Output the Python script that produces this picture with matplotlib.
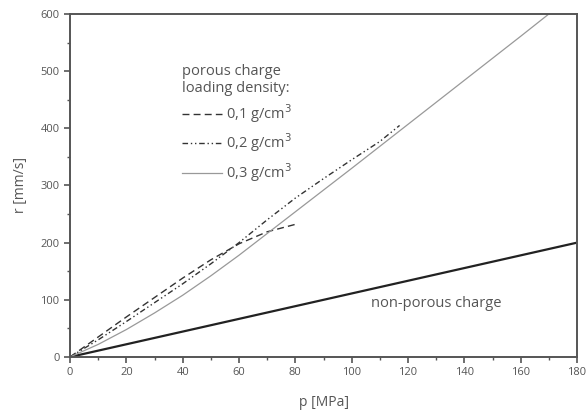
import matplotlib
matplotlib.use("Agg")
import matplotlib.pyplot as plt

# non-porous charge
p_np = [0, 180]
r_np = [0, 200]

# porous charge, loading density 0,1 g/cm3
p_01 = [0, 10, 20, 30, 40, 50, 60, 70, 80]
r_01 = [0, 35, 70, 104, 138, 170, 198, 219, 232]

# 0,2 g/cm3
p_02 = [0, 10, 20, 30, 40, 50, 60, 70, 80, 90, 100, 110, 117]
r_02 = [0, 30, 62, 95, 128, 163, 200, 240, 278, 312, 345, 377, 405]

# 0,3 g/cm3
p_03 = [0, 10, 20, 30, 40, 50, 60, 70, 80, 90, 100, 120, 140, 160, 170]
r_03 = [0, 22, 48, 77, 108, 142, 178, 216, 254, 292, 330, 407, 484, 561, 600]

xticks = [0, 20, 40, 60, 80, 100, 120, 140, 160, 180]
yticks = [0, 100, 200, 300, 400, 500, 600]

plt.rcParams['font.family'] = ['Open Sans', 'DejaVu Sans']
txt = '#555555'

fig = plt.figure(figsize=(5.87, 4.15), dpi=100)
ax = fig.add_axes([0.1193, 0.1398, 0.8637, 0.8265])

ax.plot(p_np, r_np, color='#222222', lw=1.6)
ax.plot(p_01, r_01, color='#333333', lw=1.0, ls=(0, (5, 3)), label='0,1 g/cm$^3$')
ax.plot(p_02, r_02, color='#333333', lw=1.0, ls=(0, (4, 2, 1, 2, 1, 2)), label='0,2 g/cm$^3$')
ax.plot(p_03, r_03, color='#999999', lw=0.9, label='0,3 g/cm$^3$')

ax.set_xlim(0, 180)
ax.set_ylim(0, 600)
ax.set_xticks(xticks)
ax.set_yticks(yticks)
ax.set_xticks(range(10, 180, 20), minor=True)
ax.set_yticks(range(50, 600, 100), minor=True)
ax.tick_params(direction='out', length=4, width=1.2, colors='#555555', labelcolor=txt, labelsize=8)
ax.tick_params(which='minor', direction='out', length=2.5, width=1.0, colors='#555555')
for s in ax.spines.values():
    s.set_color('#555555')
    s.set_linewidth(1.4)

ax.set_xlabel('p [MPa]', color=txt, fontsize=10, labelpad=12)
ax.set_ylabel('r [mm/s]', color=txt, fontsize=10, labelpad=9)

ax.text(0.722, 0.157, 'non-porous charge', transform=ax.transAxes, color=txt,
        fontsize=10.5, ha='center', va='center')

leg = ax.legend(loc='upper left', bbox_to_anchor=(0.21, 0.872), frameon=False,
                title='porous charge\nloading density:', alignment='left',
                fontsize=10.5, title_fontsize=10.5, handlelength=2.7, handletextpad=0.3,
                labelspacing=0.45, borderaxespad=0)
for t in leg.get_texts():
    t.set_color(txt)
leg.get_title().set_color(txt)

fig.savefig('out.png', dpi=100)
